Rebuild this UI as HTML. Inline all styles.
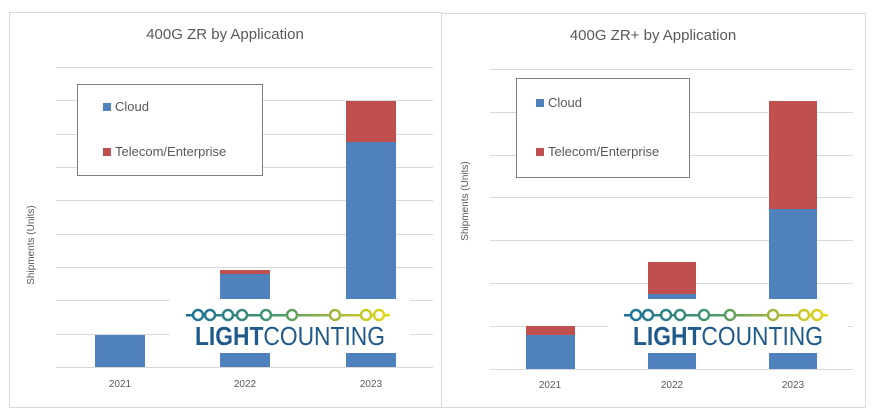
<!DOCTYPE html>
<html><head><meta charset="utf-8"><style>
html,body{margin:0;padding:0;background:#fff;}
svg{display:block;font-family:"Liberation Sans",sans-serif;}
</style></head><body>
<svg width="876" height="412" viewBox="0 0 876 412" xmlns="http://www.w3.org/2000/svg">
<defs>
<linearGradient id="g" gradientUnits="userSpaceOnUse" x1="16" x2="220" y1="0" y2="0">
<stop offset="0" stop-color="#1a6f9a"/><stop offset="0.45" stop-color="#4a9a6a"/><stop offset="0.75" stop-color="#a8b83a"/><stop offset="1" stop-color="#e8d81a"/>
</linearGradient>
<g id="logo">
<rect x="0" y="0" width="240" height="54" fill="#fff"/>
<rect x="16" y="15" width="204" height="2.5" fill="url(#g)"/>
<g fill="#fff" stroke="url(#g)" stroke-width="2.5">
<circle cx="28" cy="16" r="5"/><circle cx="40" cy="16" r="5"/><circle cx="58" cy="16" r="5"/><circle cx="72" cy="16" r="5"/><circle cx="96" cy="16" r="5"/><circle cx="122" cy="16" r="5"/><circle cx="165" cy="16" r="5"/><circle cx="196" cy="16" r="5"/><circle cx="209" cy="16" r="5"/>
</g>
<text x="25" y="46" font-size="26" fill="#1f5a8a" textLength="190" lengthAdjust="spacingAndGlyphs"><tspan font-weight="bold">LIGHT</tspan>COUNTING</text>
</g>
</defs>
<!-- Left panel -->
<rect x="9.5" y="12.5" width="432" height="395" fill="#fff" stroke="#d9d9d9"/>
<text x="225" y="39" font-size="15" fill="#595959" text-anchor="middle">400G ZR by Application</text>
<g stroke="#d9d9d9" stroke-width="1">
<line x1="56" x2="433" y1="67.5" y2="67.5"/><line x1="56" x2="433" y1="100.5" y2="100.5"/><line x1="56" x2="433" y1="134.5" y2="134.5"/><line x1="56" x2="433" y1="167.5" y2="167.5"/><line x1="56" x2="433" y1="200.5" y2="200.5"/><line x1="56" x2="433" y1="234.5" y2="234.5"/><line x1="56" x2="433" y1="267.5" y2="267.5"/><line x1="56" x2="433" y1="300.5" y2="300.5"/><line x1="56" x2="433" y1="334.5" y2="334.5"/><line x1="56" x2="433" y1="367.5" y2="367.5"/>
</g>
<rect x="95" y="335" width="50" height="32" fill="#4f81bd"/>
<rect x="220" y="270" width="50" height="4" fill="#c0504d"/>
<rect x="220" y="274" width="50" height="93" fill="#4f81bd"/>
<rect x="346" y="101" width="50" height="41" fill="#c0504d"/>
<rect x="346" y="142" width="50" height="225" fill="#4f81bd"/>
<use href="#logo" x="170" y="299"/>
<rect x="77.5" y="84.5" width="185" height="91" fill="#fff" stroke="#7f7f7f"/>
<rect x="103" y="103" width="8" height="8" fill="#4f81bd"/>
<text x="115" y="111" font-size="13" fill="#595959">Cloud</text>
<rect x="103" y="148" width="8" height="8" fill="#c0504d"/>
<text x="115" y="156" font-size="13" fill="#595959">Telecom/Enterprise</text>
<text transform="translate(34,245) rotate(-90)" font-size="10" fill="#595959" text-anchor="middle">Shipments (Units)</text>
<g font-size="10" fill="#595959" text-anchor="middle"><text x="120" y="387">2021</text><text x="245" y="387">2022</text><text x="371" y="387">2023</text></g>

<!-- Right panel -->
<rect x="441.5" y="13.5" width="424" height="394" fill="#fff" stroke="#d9d9d9"/>
<text x="653" y="40" font-size="15" fill="#595959" text-anchor="middle">400G ZR+ by Application</text>
<g stroke="#d9d9d9" stroke-width="1">
<line x1="490" x2="853" y1="69.5" y2="69.5"/><line x1="490" x2="853" y1="112.5" y2="112.5"/><line x1="490" x2="853" y1="155.5" y2="155.5"/><line x1="490" x2="853" y1="197.5" y2="197.5"/><line x1="490" x2="853" y1="240.5" y2="240.5"/><line x1="490" x2="853" y1="283.5" y2="283.5"/><line x1="490" x2="853" y1="326.5" y2="326.5"/><line x1="490" x2="853" y1="369.5" y2="369.5"/>
</g>
<rect x="526" y="326" width="49" height="9" fill="#c0504d"/>
<rect x="526" y="335" width="49" height="34" fill="#4f81bd"/>
<rect x="648" y="262" width="48" height="32" fill="#c0504d"/>
<rect x="648" y="294" width="48" height="75" fill="#4f81bd"/>
<rect x="769" y="101" width="48" height="108" fill="#c0504d"/>
<rect x="769" y="209" width="48" height="160" fill="#4f81bd"/>
<use href="#logo" x="608" y="299"/>
<rect x="516.5" y="78.5" width="173" height="99" fill="#fff" stroke="#7f7f7f"/>
<rect x="536" y="99" width="8" height="8" fill="#4f81bd"/>
<text x="548" y="107" font-size="13" fill="#595959">Cloud</text>
<rect x="536" y="148" width="8" height="8" fill="#c0504d"/>
<text x="548" y="156" font-size="13" fill="#595959">Telecom/Enterprise</text>
<text transform="translate(468,201) rotate(-90)" font-size="10" fill="#595959" text-anchor="middle">Shipments (Units)</text>
<g font-size="10" fill="#595959" text-anchor="middle"><text x="550" y="388">2021</text><text x="672" y="388">2022</text><text x="793" y="388">2023</text></g>
</svg>
</body></html>
